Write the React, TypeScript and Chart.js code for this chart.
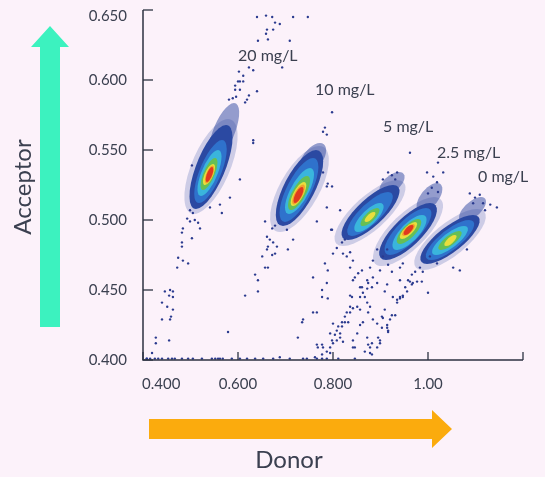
import React, { useEffect, useRef } from "react";
import { Chart, registerables } from "chart.js";

Chart.register(...registerables);

// ---------- axis data ----------
const X_MIN = 0.4;
const X_MAX = 1.2;
const Y_MIN = 0.4;
const Y_MAX = 0.65;
const X_TICKS = [0.4, 0.6, 0.8, 1.0, 1.2];
const X_TICK_LABELS = ["0.400", "0.600", "0.800", "1.00", ""];
const Y_TICKS = [0.4, 0.45, 0.5, 0.55, 0.6, 0.65];
const Y_TICK_LABELS = ["0.400", "0.450", "0.500", "0.550", "0.600", "0.650"];
const X_TITLE = "Donor";
const Y_TITLE = "Acceptor";

// ---------- cluster labels (concentrations) ----------
const CONCENTRATIONS = ["20 mg/L", "10 mg/L", "5 mg/L", "2.5 mg/L", "0 mg/L"];
const LABEL_X = [0.6, 0.7621, 0.9053, 1.0189, 1.1053];
const LABEL_Y = [0.6136, 0.5893, 0.5629, 0.5443, 0.5271];

// ---------- density levels: [topX, topY, bottomX, bottomY, halfWidthX] ----------
const LEVEL_HALO = [
  [0.5789, 0.5721, 0.5074, 0.5043, 0.0432],
  [0.7705, 0.5529, 0.6884, 0.4914, 0.0463],
  [0.9347, 0.5286, 0.8211, 0.4814, 0.0485],
  [1.0126, 0.5164, 0.9032, 0.4671, 0.0495],
  [1.1032, 0.5079, 0.9895, 0.4643, 0.0495],
];
const LEVEL_NAVY_SPARSE = [
  [0.5916, 0.5836, 0.5495, 0.5429, 0.024],
  [0.7726, 0.555, 0.7411, 0.5321, 0.024],
  [0.9389, 0.5343, 0.9095, 0.5179, 0.022],
  [1.0189, 0.5264, 0.9874, 0.5057, 0.022],
  [1.1116, 0.5164, 1.0758, 0.4986, 0.022],
];
const LEVEL_NAVY = [
  [0.5747, 0.5679, 0.5116, 0.5079, 0.0326],
  [0.7642, 0.55, 0.6947, 0.4957, 0.0358],
  [0.9263, 0.525, 0.8316, 0.4857, 0.0385],
  [1.0042, 0.5121, 0.9116, 0.4714, 0.0395],
  [1.0947, 0.5036, 0.9979, 0.4686, 0.0395],
];
const LEVEL_BLUE = [
  [0.5663, 0.5571, 0.5179, 0.5121, 0.0242],
  [0.7579, 0.5443, 0.6989, 0.4986, 0.0284],
  [0.9158, 0.52, 0.84, 0.4886, 0.0295],
  [0.9958, 0.5086, 0.92, 0.475, 0.0316],
  [1.0863, 0.5, 1.0063, 0.4714, 0.0316],
];
const LEVEL_CYAN = [
  [0.5579, 0.55, 0.5221, 0.5171, 0.0179],
  [0.7516, 0.5371, 0.7074, 0.5043, 0.0211],
  [0.8989, 0.5121, 0.8526, 0.4914, 0.0205],
  [0.9874, 0.5036, 0.9347, 0.4786, 0.0245],
  [1.0758, 0.4957, 1.0168, 0.475, 0.0235],
];
const LEVEL_GREEN = [
  [0.5516, 0.5443, 0.5263, 0.5214, 0.0126],
  [0.7453, 0.5314, 0.7116, 0.5071, 0.0158],
  [0.8926, 0.5086, 0.8632, 0.4957, 0.0135],
  [0.9789, 0.5007, 0.9411, 0.4829, 0.0175],
  [1.0653, 0.4921, 1.0274, 0.4786, 0.0155],
];
const LEVEL_YELLOW = [
  [0.5474, 0.54, 0.5305, 0.525, 0.0095],
  [0.7389, 0.5271, 0.7158, 0.51, 0.0116],
  [0.8863, 0.5057, 0.8695, 0.4986, 0.0078],
  [0.9726, 0.4986, 0.9453, 0.4864, 0.012],
  [1.0568, 0.4893, 1.0379, 0.4814, 0.0088],
];
const LEVEL_ORANGE = [
  [0.5463, 0.5389, 0.5337, 0.5261, 0.0074],
  [0.7368, 0.5253, 0.7179, 0.5111, 0.0095],
  [0.9684, 0.4971, 0.9495, 0.4886, 0.0095],
];
const LEVEL_RED = [
  [0.5453, 0.5379, 0.5347, 0.5271, 0.0059],
  [0.7347, 0.5236, 0.72, 0.5121, 0.0074],
  [0.9663, 0.4964, 0.9516, 0.4893, 0.0074],
];

// ---------- sparse events outside the dense cores: [donor, acceptor] ----------
const SPARSE_EVENTS = [
  // tail above 20 mg/L
  [0.640, 0.645], [0.659, 0.646], [0.672, 0.645], [0.678, 0.641], [0.688, 0.640],
  [0.716, 0.645], [0.747, 0.645], [0.661, 0.636], [0.659, 0.633], [0.663, 0.629],
  [0.642, 0.628], [0.674, 0.636], [0.709, 0.628], [0.623, 0.609], [0.632, 0.607],
  [0.602, 0.606], [0.611, 0.603], [0.604, 0.599], [0.600, 0.599], [0.594, 0.596],
  [0.611, 0.599], [0.594, 0.593], [0.604, 0.593], [0.640, 0.592], [0.623, 0.589],
  [0.619, 0.586], [0.615, 0.584], [0.589, 0.587], [0.581, 0.586], [0.596, 0.588],
  [0.632, 0.557], [0.693, 0.609], [0.798, 0.577], [0.783, 0.566], [0.779, 0.563],
  [0.787, 0.561],
  // tail below 20 mg/L
  [0.503, 0.539], [0.499, 0.507], [0.505, 0.505], [0.493, 0.501], [0.499, 0.499],
  [0.509, 0.500], [0.516, 0.498], [0.520, 0.494], [0.484, 0.494], [0.482, 0.491],
  [0.503, 0.487], [0.482, 0.484], [0.482, 0.481], [0.474, 0.473], [0.484, 0.471],
  [0.495, 0.469], [0.472, 0.466], [0.541, 0.509], [0.562, 0.511], [0.566, 0.505],
  [0.583, 0.516], [0.604, 0.529], [0.632, 0.555],
  // lower-left group
  [0.446, 0.449], [0.457, 0.450], [0.463, 0.449], [0.455, 0.446], [0.463, 0.445],
  [0.440, 0.441], [0.451, 0.438], [0.463, 0.436], [0.440, 0.429], [0.459, 0.431],
  [0.457, 0.429], [0.427, 0.416], [0.427, 0.412], [0.455, 0.414], [0.419, 0.405],
  [0.408, 0.401], [0.579, 0.420], [0.615, 0.446],
  // events piled on the lower edge
  [0.408, 0.401], [0.415, 0.401], [0.425, 0.401], [0.432, 0.401], [0.440, 0.401],
  [0.453, 0.401], [0.461, 0.401], [0.467, 0.401], [0.482, 0.401], [0.495, 0.401],
  [0.505, 0.401], [0.524, 0.401], [0.545, 0.401], [0.552, 0.401], [0.558, 0.401],
  [0.562, 0.401], [0.568, 0.401], [0.587, 0.401], [0.604, 0.401], [0.619, 0.401],
  [0.636, 0.401], [0.653, 0.401], [0.674, 0.401], [0.709, 0.401], [0.737, 0.401],
  [0.745, 0.401], [0.766, 0.401], [0.777, 0.401], [0.787, 0.401], [0.811, 0.401],
  [0.846, 0.401], [0.688, 0.402],
  // tail of 10 mg/L
  [0.657, 0.499], [0.672, 0.494], [0.678, 0.496], [0.661, 0.488], [0.667, 0.486],
  [0.674, 0.484], [0.663, 0.481], [0.682, 0.481], [0.651, 0.474], [0.672, 0.475],
  [0.678, 0.476], [0.661, 0.479], [0.657, 0.466], [0.663, 0.466], [0.636, 0.461],
  [0.642, 0.457], [0.642, 0.449], [0.705, 0.479], [0.716, 0.486], [0.703, 0.493],
  [0.766, 0.499], [0.789, 0.526], [0.798, 0.524], [0.796, 0.493], [0.787, 0.509],
  [0.787, 0.524], [0.779, 0.534],
  // lower streaks
  [0.758, 0.434], [0.735, 0.427], [0.737, 0.429], [0.726, 0.416], [0.766, 0.411],
  [0.768, 0.409], [0.777, 0.411], [0.777, 0.404], [0.787, 0.406], [0.794, 0.409],
  [0.798, 0.414], [0.794, 0.419], [0.804, 0.418], [0.800, 0.426], [0.811, 0.424],
  [0.808, 0.421], [0.815, 0.416], [0.821, 0.413], [0.819, 0.427], [0.825, 0.431],
  [0.829, 0.434], [0.836, 0.434], [0.832, 0.427], [0.842, 0.437], [0.851, 0.438],
  [0.857, 0.436], [0.846, 0.409], [0.777, 0.450], [0.777, 0.445], [0.789, 0.444],
  [0.836, 0.446], [0.857, 0.445], [0.863, 0.448], [0.872, 0.451], [0.857, 0.452],
  [0.878, 0.438], [0.842, 0.457], [0.874, 0.455], [0.914, 0.454], [0.909, 0.449],
  [0.872, 0.416], [0.874, 0.411], [0.878, 0.409], [0.867, 0.406], [0.882, 0.404],
  [0.895, 0.416], [0.899, 0.412], [0.893, 0.426], [0.905, 0.430], [0.914, 0.423],
  [0.916, 0.420], [0.920, 0.429], [0.924, 0.432], [0.931, 0.432], [0.914, 0.425],
  [0.884, 0.429], [0.935, 0.443], [0.941, 0.444], [0.947, 0.446], [0.952, 0.452],
  [0.956, 0.449], [0.966, 0.454], [0.962, 0.456], [0.977, 0.456], [0.987, 0.456],
  [1.000, 0.448], [0.926, 0.445], [0.842, 0.409],
  // tail of 5 mg/L
  [0.815, 0.507], [0.798, 0.493], [0.758, 0.459], [0.766, 0.434], [0.783, 0.469],
  [0.789, 0.464], [0.787, 0.455], [0.800, 0.476], [0.808, 0.480], [0.819, 0.484],
  [0.825, 0.486], [0.821, 0.476], [0.829, 0.474], [0.836, 0.477], [0.842, 0.471],
  [0.836, 0.466], [0.846, 0.459], [0.853, 0.462], [0.861, 0.464], [0.872, 0.457],
  [0.861, 0.452], [0.867, 0.445], [0.840, 0.445], [0.836, 0.438], [0.825, 0.427],
  [0.819, 0.424], [0.815, 0.419], [0.808, 0.414], [0.800, 0.412], [0.794, 0.405],
  [0.779, 0.409], [0.762, 0.402],
  // tail of 2.5 mg/L
  [0.893, 0.479], [0.884, 0.471], [0.878, 0.466], [0.899, 0.464], [0.884, 0.459],
  [0.893, 0.455], [0.882, 0.452], [0.872, 0.441], [0.874, 0.434], [0.863, 0.427],
  [0.857, 0.425], [0.851, 0.419], [0.842, 0.414], [0.905, 0.474], [0.914, 0.479],
  [0.916, 0.468], [0.924, 0.463], [0.941, 0.466], [0.947, 0.469], [0.903, 0.431],
  [0.909, 0.436], [0.903, 0.423], [0.916, 0.421], [0.899, 0.414], [0.882, 0.412],
  [0.878, 0.405], [0.893, 0.409],
  // tail of 0 mg/L
  [0.941, 0.457], [0.958, 0.457], [0.966, 0.461], [0.973, 0.463], [0.968, 0.455],
  [0.941, 0.445], [0.935, 0.441], [0.947, 0.445], [0.983, 0.466], [0.989, 0.463],
  [1.004, 0.474], [1.019, 0.469], [1.053, 0.466], [1.067, 0.464], [1.082, 0.479],
  // upper tails
  [0.935, 0.534], [0.916, 0.534], [0.905, 0.529], [0.931, 0.529], [0.924, 0.532],
  [0.998, 0.534], [1.011, 0.531], [1.019, 0.527], [1.008, 0.523], [1.021, 0.520],
  [1.021, 0.541], [0.962, 0.548], [1.000, 0.519], [1.032, 0.534],
  [1.088, 0.519], [1.099, 0.516], [1.109, 0.518], [1.116, 0.512], [1.145, 0.509],
  [1.120, 0.507], [1.095, 0.512], [1.131, 0.511],
];

// ---------- styles ----------
const BG = "#fcf2fa";
const TEXT = "#3b4050";
const AXIS = "#2c3242";
const DOT = "#2b3b8f";
const FONT = "Lato, 'Open Sans', sans-serif";
const LEVELS: [number[][], string][] = [
  [LEVEL_HALO, "rgba(43,70,160,0.22)"],
  [LEVEL_NAVY_SPARSE, "rgba(43,70,160,0.5)"],
  [LEVEL_NAVY, "#2b49a2"],
  [LEVEL_BLUE, "#2f72cc"],
  [LEVEL_CYAN, "#3ab5dc"],
  [LEVEL_GREEN, "#66bf55"],
  [LEVEL_YELLOW, "#e9de3d"],
  [LEVEL_ORANGE, "#f1a22c"],
  [LEVEL_RED, "#e0391f"],
];

const densityPlugin = {
  id: "density",
  beforeDatasetsDraw(chart: any) {
    const { ctx, scales } = chart;
    const xs = scales.x;
    const ys = scales.y;
    ctx.save();
    for (const [list, color] of LEVELS) {
      ctx.fillStyle = color;
      for (const e of list) {
        const tx = xs.getPixelForValue(e[0]);
        const ty = ys.getPixelForValue(e[1]);
        const bx = xs.getPixelForValue(e[2]);
        const by = ys.getPixelForValue(e[3]);
        const cx = (tx + bx) / 2;
        const cy = (ty + by) / 2;
        const cxv = (e[0] + e[2]) / 2;
        const h = xs.getPixelForValue(cxv + e[4]) - xs.getPixelForValue(cxv);
        ctx.save();
        ctx.transform(h, 0, tx - cx, ty - cy, cx, cy);
        ctx.beginPath();
        ctx.arc(0, 0, 1, 0, Math.PI * 2);
        ctx.restore();
        ctx.fill();
      }
    }
    ctx.restore();
  },
};

const decorPlugin = {
  id: "decor",
  afterDraw(chart: any) {
    const { ctx, scales, chartArea } = chart;
    const xs = scales.x;
    const ys = scales.y;
    const { left, right, top, bottom } = chartArea;
    ctx.save();
    // axes
    ctx.strokeStyle = AXIS;
    ctx.lineWidth = 1.5;
    ctx.beginPath();
    ctx.moveTo(left, top);
    ctx.lineTo(left, bottom);
    ctx.lineTo(right, bottom);
    ctx.stroke();
    ctx.lineWidth = 1.3;
    Y_TICKS.forEach((v) => {
      const y = ys.getPixelForValue(v);
      ctx.beginPath();
      ctx.moveTo(left, y);
      ctx.lineTo(left + 10, y);
      ctx.stroke();
    });
    X_TICKS.forEach((v) => {
      const x = xs.getPixelForValue(v);
      ctx.beginPath();
      ctx.moveTo(x, bottom);
      ctx.lineTo(x, bottom - 8);
      ctx.stroke();
    });
    // tick labels
    ctx.fillStyle = TEXT;
    ctx.font = `15px ${FONT}`;
    ctx.textAlign = "right";
    Y_TICKS.forEach((v, i) => {
      const y = ys.getPixelForValue(v);
      const last = i === Y_TICKS.length - 1;
      ctx.textBaseline = last ? "top" : "middle";
      ctx.fillText(Y_TICK_LABELS[i], left - 16, last ? y - 1 : y);
    });
    ctx.textBaseline = "middle";
    X_TICKS.forEach((v, i) => {
      const x = xs.getPixelForValue(v);
      ctx.textAlign = i === 0 ? "left" : "center";
      ctx.fillText(X_TICK_LABELS[i], i === 0 ? x - 1 : x, bottom + 24);
    });
    // concentration labels
    ctx.font = `16px ${FONT}`;
    ctx.textAlign = "left";
    ctx.textBaseline = "alphabetic";
    CONCENTRATIONS.forEach((t, i) => {
      ctx.fillText(t, xs.getPixelForValue(LABEL_X[i]), ys.getPixelForValue(LABEL_Y[i]));
    });
    // green arrow (acceptor)
    ctx.fillStyle = "#3cf2bf";
    ctx.beginPath();
    ctx.moveTo(40, 327);
    ctx.lineTo(40, 47);
    ctx.lineTo(31, 47);
    ctx.lineTo(50, 26);
    ctx.lineTo(69, 47);
    ctx.lineTo(60, 47);
    ctx.lineTo(60, 327);
    ctx.closePath();
    ctx.fill();
    // orange arrow (donor)
    ctx.fillStyle = "#fbab0d";
    ctx.beginPath();
    ctx.moveTo(149, 419);
    ctx.lineTo(432, 419);
    ctx.lineTo(432, 410);
    ctx.lineTo(452, 429);
    ctx.lineTo(432, 448);
    ctx.lineTo(432, 439);
    ctx.lineTo(149, 439);
    ctx.closePath();
    ctx.fill();
    // axis titles
    ctx.fillStyle = TEXT;
    ctx.font = `24px ${FONT}`;
    ctx.textAlign = "center";
    ctx.textBaseline = "middle";
    ctx.fillText(X_TITLE, 289, 460);
    ctx.save();
    ctx.translate(23, 187);
    ctx.rotate(-Math.PI / 2);
    ctx.fillText(Y_TITLE, 0, 0);
    ctx.restore();
    ctx.restore();
  },
};

export default function App() {
  const ref = useRef<HTMLCanvasElement>(null);
  useEffect(() => {
    document.body.style.margin = "0";
    document.body.style.background = BG;
    const chart = new Chart(ref.current!, {
      type: "scatter",
      data: {
        datasets: [
          {
            label: "events",
            data: SPARSE_EVENTS.map(([x, y]) => ({ x, y })),
            pointRadius: 1.2,
            pointBackgroundColor: DOT,
            pointBorderWidth: 0,
            clip: false as any,
          },
        ],
      },
      options: {
        animation: false,
        responsive: false,
        layout: { padding: { left: 143, right: 22, top: 10, bottom: 117 } },
        scales: {
          x: { type: "linear", min: X_MIN, max: X_MAX, display: false },
          y: { type: "linear", min: Y_MIN, max: Y_MAX, display: false },
        },
        plugins: { legend: { display: false }, tooltip: { enabled: false } },
      },
      plugins: [densityPlugin, decorPlugin],
    });
    return () => chart.destroy();
  }, []);
  return (
    <div style={{ position: "absolute", left: 0, top: 0, width: 545, height: 477, background: BG }}>
      <canvas ref={ref} width={545} height={477} style={{ display: "block", width: 545, height: 477 }} />
    </div>
  );
}
